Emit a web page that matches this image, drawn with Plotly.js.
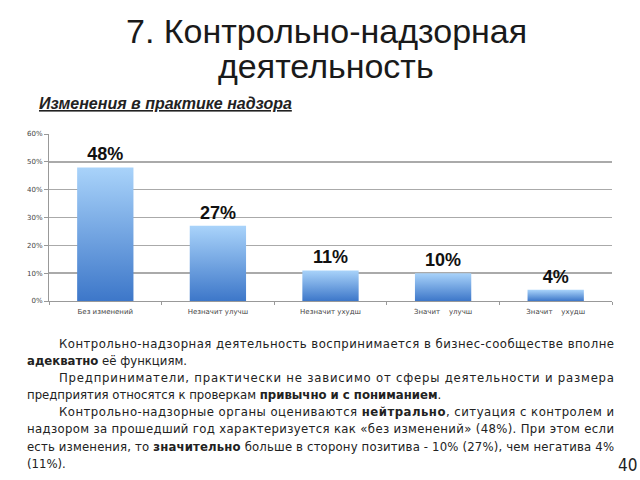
<!DOCTYPE html>
<html>
<head>
<meta charset="utf-8">
<script src="https://cdn.plot.ly/plotly-3.0.1.min.js"></script>
<style>html,body{margin:0;padding:0;background:#fff;}#chart{width:640px;height:480px;}</style>
</head>
<body>
<div id="chart"></div>
<script>
const categories = ["Без изменений", "Незначит улучш", "Незначит ухудш", "Значит\u00a0\u00a0\u00a0\u00a0улучш", "Значит\u00a0\u00a0\u00a0\u00a0ухудш"];
const values = [0.48, 0.27, 0.11, 0.10, 0.04];
const valueLabels = ["48%", "27%", "11%", "10%", "4%"];
const tickVals = [0, 0.1, 0.2, 0.3, 0.4, 0.5, 0.6];
const tickText = ["0%", "10%", "20%", "30%", "40%", "50%", "60%"];

const titleLines = ["7. Контрольно-надзорная", "деятельность"];
const subtitle = "Изменения в практике надзора";
const paragraphLines = [
  "Контрольно-надзорная деятельность воспринимается в бизнес-сообществе вполне",
  "<b>адекватно</b> её функциям.",
  "Предприниматели, практически не зависимо от сферы деятельности и размера",
  "предприятия относятся к проверкам <b>привычно и с пониманием</b>.",
  "Контрольно-надзорные органы оцениваются <b>нейтрально</b>, ситуация с контролем и",
  "надзором за прошедший год характеризуется как «без изменений» (48%). При этом если",
  "есть изменения, то <b>значительно</b> больше в сторону позитива - 10% (27%), чем негатива 4%",
  "(11%)."
];
const indented = [true, false, true, false, true, false, false, false];
const justified = [true, false, true, false, true, true, true, false];
const pageNumber = "40";

// layout geometry (pixels)
const L = 49, R = 612, T = 134, B = 301;
const px = x => (x - L) / (R - L);
const py = y => (B - y) / (B - T);

const annotations = [];
annotations.push({text: titleLines[0], x: px(326), y: py(31), xref: 'paper', yref: 'paper', showarrow: false,
  xanchor: 'center', yanchor: 'middle', font: {family: 'Liberation Sans, Arial, sans-serif', size: 34, color: '#1a1a1a'}});
annotations.push({text: titleLines[1], x: px(326), y: py(66), xref: 'paper', yref: 'paper', showarrow: false,
  xanchor: 'center', yanchor: 'middle', font: {family: 'Liberation Sans, Arial, sans-serif', size: 34, color: '#1a1a1a'}});
annotations.push({text: '<span style="text-decoration:underline"><b><i>' + subtitle + '</i></b></span>', x: px(37), y: py(104), xref: 'paper', yref: 'paper', showarrow: false,
  xanchor: 'left', yanchor: 'middle', font: {family: 'Liberation Sans, Arial, sans-serif', size: 16, color: '#222'}});

const lineY = [343, 360, 377, 394, 411, 428, 446, 463];
const textLeft = 25, textIndent = 57, textRight = 612;
paragraphLines.forEach((t, i) => {
  annotations.push({text: t, x: px(indented[i] ? textIndent : textLeft), y: py(lineY[i]), xref: 'paper', yref: 'paper', showarrow: false,
    xanchor: 'left', yanchor: 'middle', align: 'left',
    font: {family: 'Liberation Sans Narrow, DejaVu Sans Condensed, Arial, sans-serif', size: 13, color: '#222'}});
});
annotations.push({text: pageNumber, x: px(627), y: py(465), xref: 'paper', yref: 'paper', showarrow: false,
  xanchor: 'center', yanchor: 'middle', font: {family: 'Liberation Sans Narrow, DejaVu Sans Condensed, sans-serif', size: 17, color: '#222'}});

const trace = {
  type: 'bar', x: categories, y: values, width: 0.5,
  text: valueLabels, textposition: 'outside', cliponaxis: false,
  textfont: {family: 'Liberation Sans, Arial, sans-serif', size: 18, color: '#111'},
  texttemplate: '<b>%{text}</b>',
  marker: {color: '#6fa3e6', line: {width: 0}},
  hoverinfo: 'none'
};

const layout = {
  width: 640, height: 480,
  margin: {l: L, r: 640 - R, t: T, b: 480 - B},
  paper_bgcolor: '#fff', plot_bgcolor: '#fff',
  showlegend: false,
  bargap: 0.5,
  xaxis: {
    type: 'category', range: [-0.5, 4.5], showgrid: false, zeroline: false,
    showline: true, linecolor: '#999', linewidth: 1,
    ticks: 'outside', tickson: 'boundaries', ticklen: 3, tickcolor: '#999',
    ticklabelstandoff: 4,
    tickfont: {family: 'DejaVu Sans, sans-serif', size: 7, color: '#444'}
  },
  yaxis: {
    range: [0, 0.6], tickvals: tickVals, ticktext: tickText,
    showgrid: true, gridcolor: '#aaaaaa', gridwidth: 1.5, zeroline: false,
    showline: true, linecolor: '#999', linewidth: 1,
    ticks: 'outside', ticklen: 4, tickcolor: '#999',
    tickfont: {family: 'DejaVu Sans, sans-serif', size: 7, color: '#444'}
  },
  annotations: annotations
};

Plotly.newPlot('chart', [trace], layout, {staticPlot: true, displayModeBar: false}).then(gd => {
  const svg = gd.querySelector('.main-svg');
  const ns = 'http://www.w3.org/2000/svg';
  let defs = svg.querySelector('defs');
  if (!defs) { defs = document.createElementNS(ns, 'defs'); svg.insertBefore(defs, svg.firstChild); }
  const grad = document.createElementNS(ns, 'linearGradient');
  grad.setAttribute('id', 'barGrad');
  grad.setAttribute('x1', '0'); grad.setAttribute('y1', '0');
  grad.setAttribute('x2', '0'); grad.setAttribute('y2', '1');
  [['0', '#a9d3fa'], ['1', '#3d77c9']].forEach(([o, c]) => {
    const s = document.createElementNS(ns, 'stop');
    s.setAttribute('offset', o); s.setAttribute('stop-color', c);
    grad.appendChild(s);
  });
  defs.appendChild(grad);
  gd.querySelectorAll('.bars .point path').forEach(p => { p.style.fill = 'url(#barGrad)'; });
  // justify paragraph lines (stretch to the right margin, keeping the left edge)
  const anns = gd.querySelectorAll('.annotation');
  anns.forEach((a, idx) => {
    const pi = idx - 3;
    if (pi >= 0 && pi < paragraphLines.length && justified[pi]) {
      const t = a.querySelector('text');
      if (t) {
        const bb = t.getBBox();
        t.setAttribute('text-anchor', 'start');
        t.setAttribute('x', String(bb.x));
        const startX = indented[pi] ? textIndent : textLeft;
        t.setAttribute('textLength', String(textRight - startX));
        t.setAttribute('lengthAdjust', 'spacing');
      }
    }
  });
});
</script>
</body>
</html>
